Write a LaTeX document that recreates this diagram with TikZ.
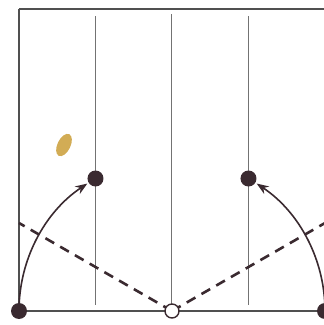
\documentclass[tikz,border=0pt]{standalone}
\usetikzlibrary{arrows.meta}
\definecolor{ink}{RGB}{58,42,48}
\definecolor{edge}{RGB}{80,80,80}
\definecolor{thin}{RGB}{115,115,115}
\definecolor{stain}{RGB}{210,172,85}
\tikzset{
  border/.style={draw=edge, line width=2pt},
  guide/.style={draw=thin, line width=1pt},
  foldline/.style={draw=ink, line width=2.6pt, dash pattern=on 10pt off 7pt},
  dotnode/.style={circle, fill=ink, inner sep=0pt, minimum size=16pt},
  cornerdot/.style={circle, fill=ink, inner sep=0pt, minimum size=16pt},
  pivot/.style={circle, draw=ink, fill=white, line width=1.4pt, inner sep=0pt, minimum size=14pt},
  move/.style={draw=ink, line width=1.6pt, -{Stealth[length=12pt,width=9pt]}}
}
\begin{document}
\begin{tikzpicture}[x=1pt,y=1pt]
\useasboundingbox (0,0) rectangle (324,325);
% square
\draw[border] (19,316.5) -- (325,316.5);
\draw[border] (19,316.5) -- (19,14) -- (325,14);
% guides
\draw[guide] (95.5,309) -- (95.5,20);
\draw[guide] (172,311) -- (172,14);
\draw[guide] (248.5,309) -- (248.5,20);
% stain
\fill[stain, rotate around={-26:(64,180)}] (64,180) ellipse [x radius=6.5pt, y radius=12pt];
% fold lines
\coordinate (O) at (172,14);
\coordinate (L) at (19,102);
\coordinate (R) at (325,102);
\draw[foldline] (O) -- (L);
\draw[foldline] (O) -- (R);
% arcs
\coordinate (BL) at (19,14);
\coordinate (BR) at (325,14);
\draw[move] (BL) arc (180:123.6:153);
\draw[move] (BR) arc (0:56.4:153);
% dots
\node[cornerdot] (cl) at (BL) {};
\node[cornerdot] (cr) at (BR) {};
\node[dotnode] (dl) at (95.5,146.5) {};
\node[dotnode] (dr) at (248.5,146.5) {};
\node[pivot] (p) at (O) {};
\end{tikzpicture}
\end{document}
